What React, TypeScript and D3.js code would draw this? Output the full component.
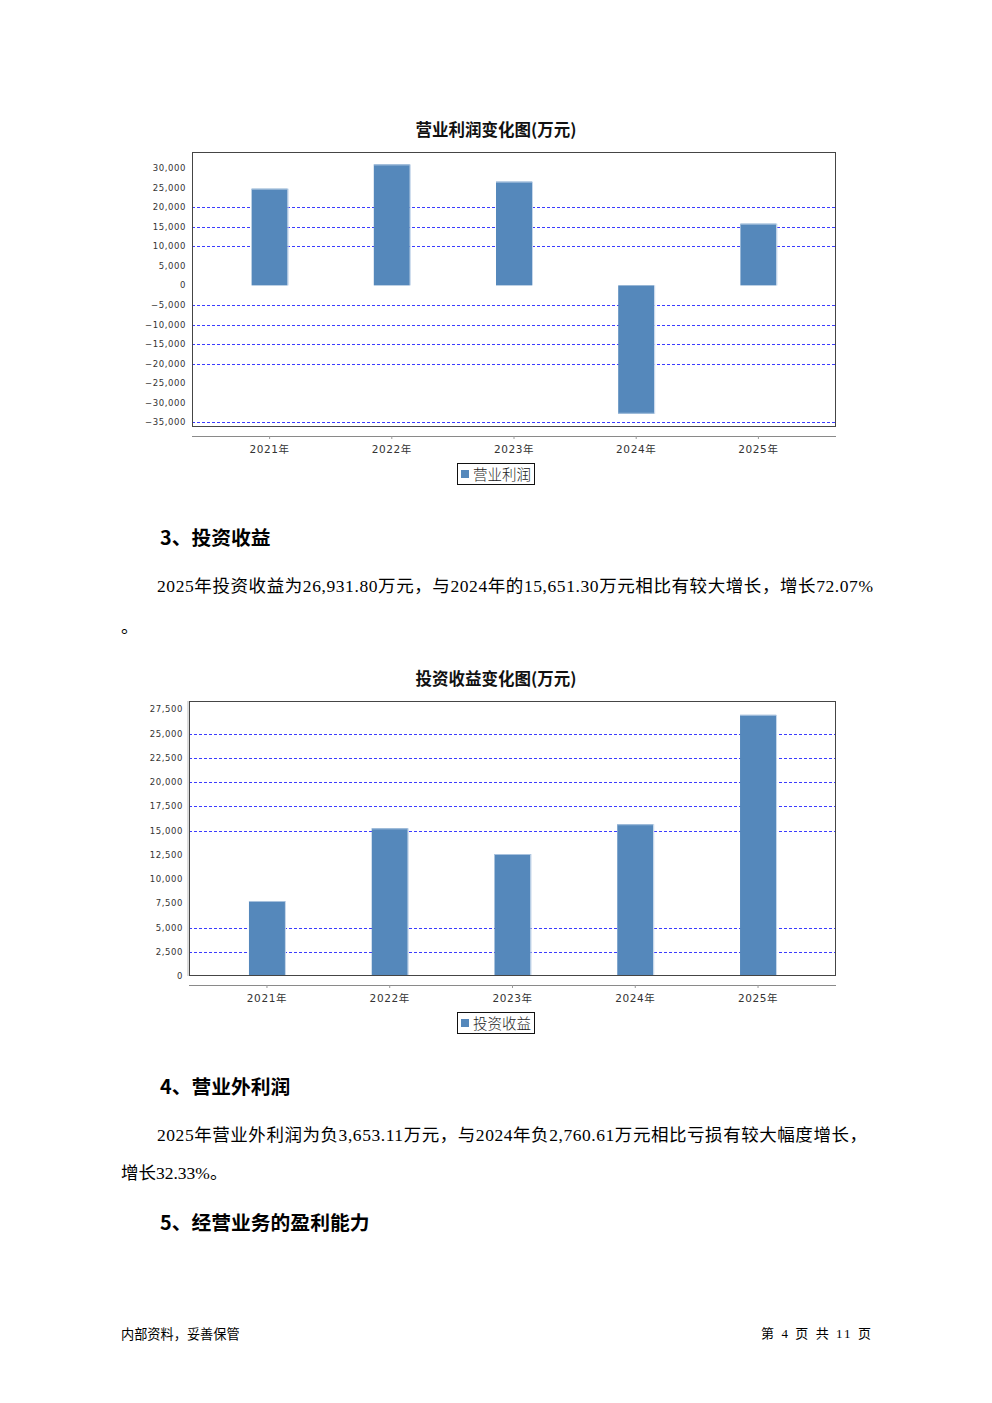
import React from "react";
import * as d3 from "d3";

const years = ["2021年", "2022年", "2023年", "2024年", "2025年"];
const operatingProfit = [24700, 30900, 26500, -32800, 15760];
const investmentIncome = [7735, 15230, 12580, 15651.3, 26931.8];
const opTicks = [30000, 25000, 20000, 15000, 10000, 5000, 0, -5000, -10000, -15000, -20000, -25000, -30000, -35000];
const opGridValues = [20000, 15000, 10000, -5000, -10000, -15000, -20000, -35000];
const invTicks = [27500, 25000, 22500, 20000, 17500, 15000, 12500, 10000, 7500, 5000, 2500, 0];
const invGridValues = [25000, 22500, 20000, 17500, 15000, 5000, 2500];

const BAR = "#5588bb";
const GRID = "#3c3cff";
const fmt = d3.format(",");

type ChartProps = {
  title: string;
  legend: string;
  values: number[];
  ticks: number[];
  grid: number[];
  domain: [number, number];
  box: { x0: number; x1: number; y0: number; y1: number };
  titleY: number;
  labelRight: number;
  leftBar?: boolean;
};

function BarChart(p: ChartProps) {
  const { box } = p;
  const x = d3.scalePoint<string>().domain(years).range([box.x0, box.x1]).padding(0.635);
  const y = d3.scaleLinear().domain(p.domain).range([box.y1, box.y0]);
  const bw = 36;
  const axisY = box.y1 + 9;
  const legendY = box.y1 + 36;
  return (
    <g>
      <text x={496} y={p.titleY} textAnchor="middle" dominantBaseline="central"
        fontFamily="'Noto Sans CJK SC', sans-serif" fontWeight="bold" fontSize={16.5} fill="#111">{p.title}</text>
      <rect x={box.x0} y={box.y0} width={box.x1 - box.x0} height={box.y1 - box.y0} fill="#fff" />
      {p.grid.map((g) => (
        <line key={"g" + g} x1={box.x0} x2={box.x1} y1={Math.round(y(g)) + 0.5} y2={Math.round(y(g)) + 0.5}
          stroke={GRID} strokeWidth={1} strokeDasharray="3,2" />
      ))}
      {p.values.map((v, i) => {
        const cx = x(years[i])!;
        const top = y(Math.max(0, v));
        const bot = y(Math.min(0, v));
        return (
          <g key={"b" + i}>
            <rect x={cx - bw / 2} y={top} width={bw} height={bot - top} fill={BAR} />
            <line x1={cx + bw / 2 + 0.5} x2={cx + bw / 2 + 0.5} y1={top} y2={bot} stroke="#c5d6ea" strokeWidth={1} />
            <line x1={cx - bw / 2} x2={cx + bw / 2} y1={v >= 0 ? top + 0.5 : bot - 0.5} y2={v >= 0 ? top + 0.5 : bot - 0.5} stroke="#a8c2de" strokeWidth={1} />
          </g>
        );
      })}
      {p.leftBar && (
        <line x1={box.x0 - 1} x2={box.x0 - 1} y1={box.y0} y2={box.y1} stroke="#dcdcdc" strokeWidth={2} />
      )}
      <rect x={box.x0 + 0.5} y={box.y0 + 0.5} width={box.x1 - box.x0 - 1} height={box.y1 - box.y0 - 1}
        fill="none" stroke="#454545" strokeWidth={1} />
      {p.ticks.map((t) => (
        <text key={"t" + t} x={p.labelRight} y={y(t)} textAnchor="end" dominantBaseline="central"
          fontFamily="'DejaVu Sans', sans-serif" fontSize={8.5} letterSpacing={0.6} fill="#333">{fmt(t)}</text>
      ))}
      <line x1={box.x0} x2={box.x1} y1={axisY + 0.5} y2={axisY + 0.5} stroke="#8a8a8a" strokeWidth={1} />
      {years.map((yr) => (
        <g key={yr}>
          <line x1={x(yr)!} x2={x(yr)!} y1={axisY} y2={axisY + 3} stroke="#999" strokeWidth={1} />
          <text x={x(yr)!} y={axisY + 13} textAnchor="middle" dominantBaseline="central"
            fontFamily="'DejaVu Sans', 'Noto Sans CJK SC', sans-serif" fontSize={10.5} letterSpacing={0.6} fill="#333">{yr}</text>
        </g>
      ))}
      <rect x={457.5} y={legendY + 0.5} width={77} height={21} fill="#fff" stroke="#111" strokeWidth={1} />
      <rect x={461} y={legendY + 7} width={8} height={8} fill={BAR} />
      <text x={473} y={legendY + 10} dominantBaseline="central"
        fontFamily="'Noto Sans CJK SC', sans-serif" fontWeight={300} fontSize={14.5} fill="#222">{p.legend}</text>
    </g>
  );
}

const bodyFont = "'Liberation Serif', 'Noto Sans CJK SC', serif";
const headFont = "'Noto Sans CJK SC', sans-serif";

export default function App() {
  return (
    <svg width={992} height={1403} viewBox="0 0 992 1403"
      style={{ position: "absolute", left: 0, top: 0, background: "#fff" }}>
      <rect width={992} height={1403} fill="#fff" />
      <BarChart title="营业利润变化图(万元)" legend="营业利润" values={operatingProfit} ticks={opTicks}
        grid={opGridValues} domain={[-36180, 34080]} box={{ x0: 192, x1: 836, y0: 152, y1: 427 }}
        titleY={129} labelRight={186} />
      <BarChart title="投资收益变化图(万元)" legend="投资收益" values={investmentIncome} ticks={invTicks}
        grid={invGridValues} domain={[0, 28360]} box={{ x0: 189, x1: 836, y0: 701, y1: 976 }}
        titleY={678} labelRight={183} leftBar />

      <text x={160} y={536} dominantBaseline="central" fontFamily={headFont} fontWeight="bold" fontSize={19.8} fill="#000">3、投资收益</text>
      <text x={157} y={586} dominantBaseline="central" fontFamily={bodyFont} fontSize={17.5} fill="#000"
        textLength={716} lengthAdjust="spacing">2025年投资收益为26,931.80万元，与2024年的15,651.30万元相比有较大增长，增长72.07%</text>
      <text x={121} y={627} dominantBaseline="central" fontFamily={bodyFont} fontSize={17.5} fill="#000">。</text>

      <text x={160} y={1085} dominantBaseline="central" fontFamily={headFont} fontWeight="bold" fontSize={19.8} fill="#000">4、营业外利润</text>
      <text x={157} y={1135} dominantBaseline="central" fontFamily={bodyFont} fontSize={17.5} fill="#000"
        textLength={710} lengthAdjust="spacing">2025年营业外利润为负3,653.11万元，与2024年负2,760.61万元相比亏损有较大幅度增长，</text>
      <text x={121} y={1173} dominantBaseline="central" fontFamily={bodyFont} fontSize={17.5} fill="#000">增长32.33%。</text>

      <text x={160} y={1221} dominantBaseline="central" fontFamily={headFont} fontWeight="bold" fontSize={19.8} fill="#000">5、经营业务的盈利能力</text>

      <text x={121} y={1333} dominantBaseline="central" fontFamily={headFont} fontSize={13.2} fill="#000">内部资料，妥善保管</text>
      <text x={761} y={1333} dominantBaseline="central" fontFamily={bodyFont} fontSize={13} fill="#000"
        textLength={110} lengthAdjust="spacing">第 4 页   共 11 页</text>
    </svg>
  );
}
